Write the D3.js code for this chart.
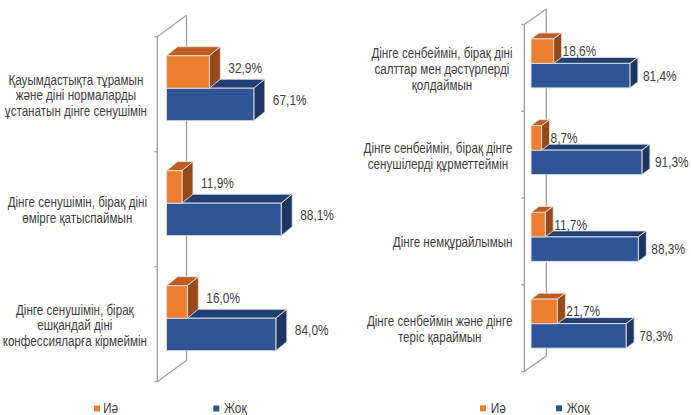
<!DOCTYPE html>
<html>
<head>
<meta charset="utf-8">
<script src="https://cdn.jsdelivr.net/npm/d3@7"></script>
<style>
  body { margin: 0; background: #fff; }
  svg { display: block; }
</style>
</head>
<body>
<svg id="chart" width="691" height="415"></svg>
<script>
// ---- data ----
const seriesNames = ["Иә", "Жоқ"];

const leftCategories = [
  "Қауымдастықта тұрамын\nжәне діні нормаларды\nұстанатын дінге сенушімін",
  "Дінге сенушімін, бірақ діні\nөмірге қатыспаймын",
  "Дінге сенушімін, бірақ\nешқандай діні\nконфессияларға кірмеймін"
];
const leftYes = [32.9, 11.9, 16.0];
const leftNo  = [67.1, 88.1, 84.0];

const rightCategories = [
  "Дінге сенбеймін, бірақ діні\nсалттар мен дәстүрлерді\nқолдаймын",
  "Дінге сенбеймін, бірақ дінге\nсенушілерді құрметтеймін",
  "Дінге немқұрайлымын",
  "Дінге сенбеймін және дінге\nтеріс қараймын"
];
const rightYes = [18.6, 8.7, 11.7, 21.7];
const rightNo  = [81.4, 91.3, 88.3, 78.3];

// ---- styling ----
const faceColors = {
  "Иә":  { front: "#ED7D31", top: "#BF5E1E", side: "#98491A" },
  "Жоқ": { front: "#2F5597", top: "#223F73", side: "#1E3461" }
};
const color = d3.scaleOrdinal().domain(seriesNames).range(seriesNames.map(s => faceColors[s].front));
const TEXT = "#404040";
const WALL = "#A0A0A0";
const FONT = "'Liberation Sans Narrow', 'Liberation Sans', Arial, sans-serif";

const svg = d3.select("#chart");
svg.append("rect").attr("width", 691).attr("height", 415).attr("fill", "#fff");

// Use a condensed face if present, otherwise squeeze the regular one horizontally.
function measure(family, str) {
  const t = svg.append("text").style("font-family", family).style("font-size", "20px").text(str);
  const w = t.node().getComputedTextLength();
  t.remove();
  return w;
}
const probe = "Дінге сенбеймін, бірақ";
const squeeze = measure(FONT, probe) / measure("'Liberation Sans', Arial, sans-serif", probe) < 0.9 ? 1 : 0.82;

function addText(g, x, y, str, size, anchor) {
  return g.append("text")
    .attr("transform", `translate(${x},${y}) scale(${squeeze},1)`)
    .attr("text-anchor", anchor)
    .attr("dy", "0.35em")
    .style("font-family", FONT)
    .style("font-size", size + "px")
    .attr("fill", TEXT)
    .text(str);
}

const locale = d3.formatLocale({ decimal: ",", thousands: " ", grouping: [3], currency: ["", ""] });
const pct = v => locale.format(".1f")(v) + "%";

// ---- one 3D clustered bar panel ----
function panel(cfg) {
  const g = svg.append("g");
  const n = cfg.categories.length;
  const x = d3.scaleLinear().domain([0, 100]).range([cfg.barX0, cfg.barX0 + 100 * cfg.pxPerPct]);
  const y = d3.scaleBand().domain(d3.range(n)).range([cfg.top, cfg.bottom]);
  const [wdx, wdy] = cfg.wall;
  const [ddx, ddy] = cfg.depth;

  // wall frame: back edge, diagonals, front edge, category ticks
  const ax = cfg.axisX, bx = ax + wdx;
  const wall = g.append("g").attr("stroke", WALL).attr("stroke-width", 1.3).attr("fill", "none");
  wall.append("line").attr("x1", bx).attr("y1", cfg.top + wdy).attr("x2", bx).attr("y2", cfg.bottom + wdy);
  wall.append("line").attr("x1", ax).attr("y1", cfg.top).attr("x2", bx).attr("y2", cfg.top + wdy);
  wall.append("line").attr("x1", ax).attr("y1", cfg.bottom).attr("x2", bx).attr("y2", cfg.bottom + wdy);
  wall.append("line").attr("x1", ax).attr("y1", cfg.top).attr("x2", ax).attr("y2", cfg.bottom);
  const bounds = d3.range(n).map(i => y(i)).concat([cfg.bottom]);
  wall.selectAll("line.tick").data(bounds).join("line").attr("class", "tick")
    .attr("x1", ax - 3).attr("x2", ax).attr("y1", d => d).attr("y2", d => d);

  // bars: lower categories first, and within a category the "Жоқ" bar before "Иә"
  const rows = [];
  d3.range(n).forEach(i => {
    const mid = y(i) + y.bandwidth() / 2 + cfg.barShift;
    rows.push({ i, s: "Иә", v: cfg.yes[i], y0: mid - cfg.barH });
    rows.push({ i, s: "Жоқ", v: cfg.no[i], y0: mid });
  });
  const order = rows.slice().sort((a, b) => b.i - a.i || (a.s === "Жоқ" ? -1 : 1));

  const bars = g.append("g");
  order.forEach(d => {
    const x0 = x(0), x1 = x(d.v), y0 = d.y0, y1 = d.y0 + cfg.barH;
    const c = faceColors[d.s];
    const b = bars.append("g").attr("stroke", "#E2E2E2").attr("stroke-width", 0.9).attr("stroke-linejoin", "round");
    b.append("polygon").attr("fill", c.top)
      .attr("points", [[x0, y0], [x0 + ddx, y0 + ddy], [x1 + ddx, y0 + ddy], [x1, y0]].join(" "));
    b.append("polygon").attr("fill", c.side)
      .attr("points", [[x1, y0], [x1 + ddx, y0 + ddy], [x1 + ddx, y1 + ddy], [x1, y1]].join(" "));
    b.append("rect").attr("fill", color(d.s))
      .attr("x", x0).attr("y", y0).attr("width", x1 - x0).attr("height", cfg.barH);
  });

  // value labels
  rows.forEach(d => {
    const gap = d.s === "Иә" ? cfg.valGap[0] : cfg.valGap[1];
    addText(g, x(d.v) + ddx + gap, d.y0 + cfg.barH / 2 + cfg.valDy, pct(d.v), 14.5, "start");
  });

  // category labels: block right-aligned near the wall, lines centred within it
  cfg.categories.forEach((label, i) => {
    const lines = label.split("\n");
    const cy = y(i) + y.bandwidth() / 2 + 1;
    const texts = lines.map((ln, k) =>
      addText(g, 0, cy + (k - (lines.length - 1) / 2) * cfg.lineGap, ln, 14.2, "middle"));
    const maxW = d3.max(texts, t => t.node().getComputedTextLength()) * squeeze;
    const cx = cfg.labelRight - maxW / 2;
    texts.forEach((t, k) => t.attr("transform",
      `translate(${cx},${cy + (k - (lines.length - 1) / 2) * cfg.lineGap}) scale(${squeeze},1)`));
  });

  // legend
  const lg = g.append("g");
  cfg.legend.forEach((p, k) => {
    lg.append("rect").attr("x", p[0]).attr("y", cfg.legendY).attr("width", 6).attr("height", 6)
      .attr("fill", color(seriesNames[k]));
    addText(lg, p[1], cfg.legendY + 2.2, seriesNames[k], 14.5, "start");
  });
}

panel({
  categories: leftCategories, yes: leftYes, no: leftNo,
  axisX: 157.3, top: 36.7, bottom: 381.7, wall: [29.2, -21.5],
  barX0: 166.5, pxPerPct: 1.302, depth: [11, -9], barH: 32.5, barShift: -6,
  valGap: [8, 8], valDy: -4.5, labelRight: 147, lineGap: 15.5,
  legend: [[94, 103], [213.3, 224]], legendY: 405.5
});

panel({
  categories: rightCategories, yes: rightYes, no: rightNo,
  axisX: 524.3, top: 24.5, bottom: 371.5, wall: [22, -15.5],
  barX0: 531, pxPerPct: 1.215, depth: [8, -6], barH: 24.5, barShift: -4.5,
  valGap: [1, 5], valDy: 0, labelRight: 512.5, lineGap: 16,
  legend: [[480, 490.7], [556, 566.7]], legendY: 405.3
});
</script>
</body>
</html>
